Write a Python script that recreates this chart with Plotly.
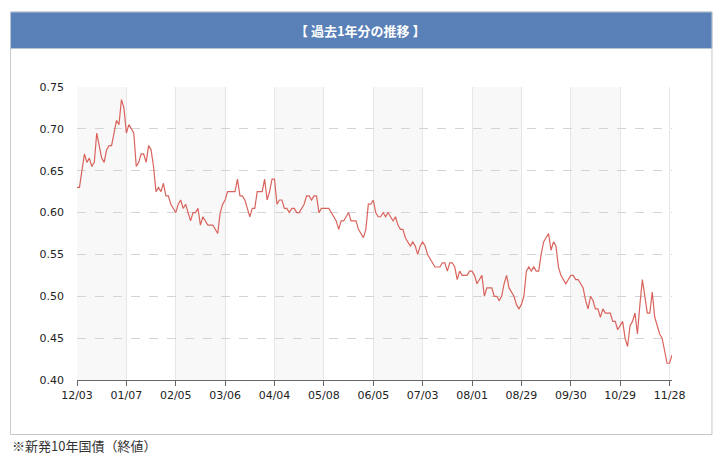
import plotly.graph_objects as go

# ---- data ----
tick_labels = ["12/03", "01/07", "02/05", "03/06", "04/04", "05/08", "06/05",
               "07/03", "08/01", "08/29", "09/30", "10/29", "11/28"]
tick_index = [0, 20, 40, 60, 80, 100, 120, 140, 160, 180, 200, 220, 240]

yields = [
    0.630, 0.630, 0.650, 0.670, 0.660, 0.665, 0.655, 0.660, 0.695, 0.680,
    0.665, 0.660, 0.675, 0.680, 0.680, 0.695, 0.710, 0.705, 0.735, 0.725,
    0.695, 0.705, 0.700, 0.695, 0.655, 0.660, 0.670, 0.670, 0.660, 0.680,
    0.675, 0.655, 0.625, 0.630, 0.625, 0.635, 0.620, 0.620, 0.610, 0.605,
    0.600, 0.610, 0.615, 0.605, 0.610, 0.600, 0.590, 0.600, 0.600, 0.605,
    0.585, 0.595, 0.590, 0.585, 0.585, 0.585, 0.580, 0.575, 0.600, 0.610,
    0.615, 0.625, 0.625, 0.625, 0.625, 0.640, 0.620, 0.620, 0.615, 0.605,
    0.595, 0.605, 0.605, 0.625, 0.625, 0.625, 0.640, 0.615, 0.625, 0.640,
    0.640, 0.610, 0.615, 0.615, 0.605, 0.605, 0.600, 0.605, 0.605, 0.600,
    0.600, 0.605, 0.610, 0.620, 0.620, 0.615, 0.620, 0.620, 0.600, 0.605,
    0.605, 0.605, 0.605, 0.600, 0.595, 0.590, 0.580, 0.590, 0.590, 0.595,
    0.600, 0.590, 0.590, 0.590, 0.580, 0.575, 0.570, 0.580, 0.610, 0.610,
    0.615, 0.600, 0.595, 0.595, 0.600, 0.595, 0.600, 0.595, 0.590, 0.595,
    0.585, 0.580, 0.580, 0.570, 0.565, 0.560, 0.565, 0.560, 0.550, 0.560,
    0.565, 0.560, 0.550, 0.545, 0.540, 0.535, 0.535, 0.535, 0.540, 0.540,
    0.530, 0.540, 0.540, 0.535, 0.520, 0.530, 0.525, 0.525, 0.525, 0.530,
    0.530, 0.525, 0.515, 0.520, 0.525, 0.500, 0.510, 0.510, 0.510, 0.500,
    0.500, 0.495, 0.500, 0.515, 0.525, 0.510, 0.505, 0.500, 0.490, 0.485,
    0.490, 0.500, 0.530, 0.535, 0.530, 0.535, 0.530, 0.530, 0.550, 0.565,
    0.570, 0.575, 0.555, 0.565, 0.560, 0.535, 0.525, 0.520, 0.515, 0.520,
    0.525, 0.525, 0.520, 0.520, 0.515, 0.510, 0.495, 0.485, 0.500, 0.495,
    0.485, 0.485, 0.475, 0.485, 0.480, 0.480, 0.480, 0.470, 0.470, 0.460,
    0.465, 0.470, 0.450, 0.440, 0.465, 0.470, 0.480, 0.455, 0.490, 0.520,
    0.500, 0.480, 0.480, 0.505, 0.475, 0.465, 0.455, 0.450, 0.435, 0.420,
    0.420, 0.430,
]
y_ticks = [0.40, 0.45, 0.50, 0.55, 0.60, 0.65, 0.70, 0.75]

title_text = "【 過去1年分の推移 】"
note_text = "※新発10年国債（終値）"

# ---- layout geometry ----
W, H = 725, 467
L, R, T, B = 77, 672.5, 87, 380   # plot area in pixels


def px(xp):
    return (xp - L) / (R - L)


def py(yp):
    return (B - yp) / (B - T)


n = len(yields)
x_idx = list(range(n))

fig = go.Figure()

fig.add_trace(go.Scatter(
    x=x_idx, y=yields, mode="lines",
    line=dict(color="#d9645d", width=1.2),
    hoverinfo="y", showlegend=False,
))

shapes = []
# outer frame
shapes.append(dict(type="rect", xref="paper", yref="paper",
                   x0=px(10.5), x1=px(712.5), y0=py(434.5), y1=py(12),
                   line=dict(color="#c8c8c8", width=1), fillcolor="white",
                   layer="below"))
# title bar
shapes.append(dict(type="rect", xref="paper", yref="paper",
                   x0=px(10.5), x1=px(712.5), y0=py(48.5), y1=py(12),
                   line=dict(color="#b9c4d3", width=1), fillcolor="#5a80b8",
                   layer="below"))
# alternating shaded bands
for k in range(0, len(tick_index) - 1, 2):
    shapes.append(dict(type="rect", xref="x", yref="paper",
                       x0=tick_index[k], x1=tick_index[k + 1], y0=0, y1=1,
                       line=dict(width=0), fillcolor="#f8f8f8", layer="below"))

fig.update_layout(
    width=W, height=H,
    margin=dict(l=L, r=W - R, t=T, b=H - B, pad=0),
    paper_bgcolor="white", plot_bgcolor="rgba(0,0,0,0)",
    shapes=shapes,
    font=dict(family="DejaVu Sans", size=11, color="#222"),
    annotations=[
        dict(text="<b>" + title_text + "</b>", xref="paper", yref="paper",
             x=px(361), y=py(30), xanchor="center", yanchor="middle",
             showarrow=False,
             font=dict(family="Noto Sans CJK JP", size=13, color="white")),
        dict(text=note_text, xref="paper", yref="paper",
             x=px(10), y=py(445), xanchor="left", yanchor="middle",
             showarrow=False,
             font=dict(family="Noto Sans CJK JP", size=13, color="#333")),
    ],
)

fig.update_xaxes(
    range=[0, n - 1], tickmode="array", tickvals=tick_index, ticktext=tick_labels,
    showgrid=True, gridcolor="#e6e6e6", gridwidth=1,
    showline=True, linecolor="#666", linewidth=1,
    ticks="outside", ticklen=5, tickcolor="#666",
    zeroline=False, fixedrange=True,
)
fig.update_yaxes(
    range=[0.40, 0.75], tickmode="array", tickvals=y_ticks,
    ticktext=[f"{v:.2f}" for v in y_ticks],
    showgrid=True, gridcolor="#d4d4d4", gridwidth=1, griddash="dash",
    showline=False, ticks="", ticklabelstandoff=12,
    zeroline=False, fixedrange=True,
)

fig.write_html("out.html")
